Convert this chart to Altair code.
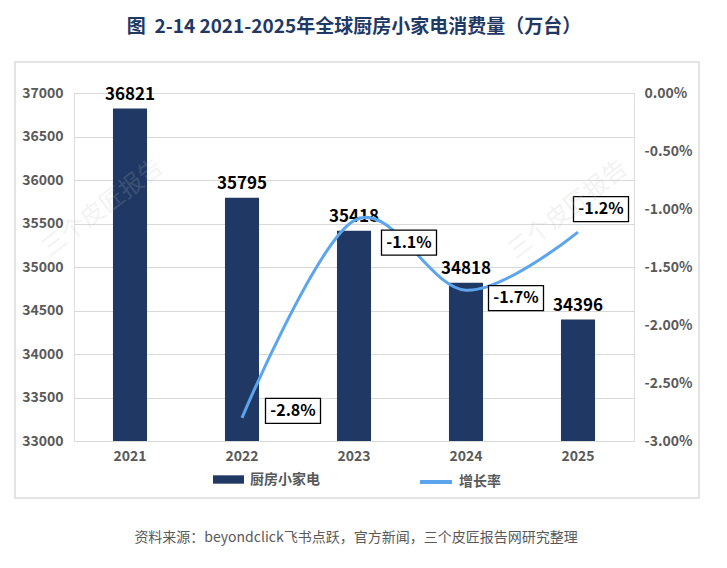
import altair as alt
import pandas as pd

# ---------------- data ----------------
years = ["2021", "2022", "2023", "2024", "2025"]
consumption = [36821, 35795, 35418, 34818, 34396]
growth = [None, -2.8, -1.1, -1.7, -1.2]
left_ticks = [33000, 33500, 34000, 34500, 35000, 35500, 36000, 36500, 37000]
right_ticks = [-3.0, -2.5, -2.0, -1.5, -1.0, -0.5, 0.0]
title_text = "图\u00a0\u00a02-14 2021-2025年全球厨房小家电消费量（万台）"
source_text = "资料来源：beyondclick飞书点跃，官方新闻，三个皮匠报告网研究整理"
watermark_text = "三个皮匠报告"
bar_series = "厨房小家电"
line_series = "增长率"

# ---------------- styles ----------------
CJK = "Noto Sans CJK SC"
BAR = "#1f3864"
LINE = "#5aa5ee"
GRID = "#d9d9d9"
LABEL = "#595959"
label_offsets = {"2022": (51, -7), "2023": (55, 22), "2024": (50, 8), "2025": (23, -23)}
BOX = "M-1,-0.455H1V0.455H-1Z"

df = pd.DataFrame({"year": years, "consumption": consumption, "growth": growth})

x_enc = alt.X(
    "year:N",
    sort=years,
    scale=alt.Scale(paddingInner=0.696, paddingOuter=0.348),
    axis=alt.Axis(labelAngle=0, labelFontSize=14, labelFontWeight="bold", labelColor=LABEL,
                  labelFont=CJK, labelPadding=8, domain=False, ticks=False, title=None, grid=False),
)
y_left = alt.Y(
    "consumption:Q",
    scale=alt.Scale(domain=[33000, 37000], zero=False, nice=False),
    axis=alt.Axis(values=left_ticks, format="d", labelFontSize=14, labelFontWeight="bold",
                  labelColor=LABEL, labelFont=CJK, labelPadding=11, domain=False, ticks=False,
                  grid=True, gridColor=GRID, gridWidth=1, title=None),
)
y_right = alt.Y(
    "growth:Q",
    scale=alt.Scale(domain=[-3, 0], nice=False, zero=False),
    axis=alt.Axis(orient="right", values=right_ticks,
                  labelExpr="(datum.value < 0 ? '-' : '') + format(abs(datum.value), '.2f') + '%'",
                  labelFontSize=14, labelFontWeight="bold", labelColor=LABEL, labelFont=CJK,
                  labelPadding=10, domain=False, ticks=False, grid=False, title=None),
)

base = alt.Chart(df)

bars = base.transform_calculate(s1=f"'{bar_series}'").mark_bar(color=BAR).encode(
    x=x_enc,
    y=y_left,
    y2=alt.datum(33000),
    color=alt.Color(
        "s1:N",
        scale=alt.Scale(domain=[bar_series], range=[BAR]),
        legend=alt.Legend(orient="none", legendX=139, legendY=371, title=None,
                          symbolType="M-1,-0.27H1V0.27H-1Z", symbolSize=961,
                          symbolStrokeWidth=0, labelFontSize=14, labelFontWeight="bold",
                          labelColor=LABEL, labelFont=CJK, labelOffset=6),
    ),
)
bar_text = base.mark_text(baseline="bottom", dy=-5, fontSize=17, fontWeight="bold",
                          color="black", font=CJK).encode(
    x=x_enc, y=y_left, text=alt.Text("consumption:Q", format="d")
)
bar_group = alt.layer(bars, bar_text)

gbase = base.transform_filter("isValid(datum.growth)")
line = gbase.transform_calculate(s2=f"'{line_series}'").mark_line(
    strokeWidth=3, interpolate="cardinal"
).encode(
    x=x_enc,
    y=y_right,
    color=alt.Color(
        "s2:N",
        scale=alt.Scale(domain=[line_series], range=[LINE]),
        legend=alt.Legend(orient="none", legendX=344, legendY=371, title=None,
                          symbolType="stroke", symbolSize=1024, symbolStrokeWidth=4,
                          labelFontSize=14, labelFontWeight="bold", labelColor=LABEL,
                          labelFont=CJK, labelOffset=5),
    ),
)
line_layers = [line]
for yr, (dx, dy) in label_offsets.items():
    sub = gbase.transform_filter(alt.datum.year == yr).transform_calculate(
        lab="(datum.growth < 0 ? '-' : '') + format(abs(datum.growth), '.1f') + '%'"
    )
    box = sub.mark_point(shape=BOX, size=55 * 55, filled=True, fill="white", stroke="black",
                         strokeWidth=1.3, opacity=1, xOffset=dx, yOffset=dy).encode(x=x_enc, y=y_right)
    txt = sub.mark_text(fontSize=16, fontWeight="bold", color="black", font=CJK, dx=dx, dy=dy,
                        baseline="middle", align="center").encode(x=x_enc, y=y_right, text="lab:N")
    line_layers += [box, txt]
line_group = alt.layer(*line_layers)

one = pd.DataFrame({"t": [source_text], "w": [watermark_text]})
frame = alt.Chart(one).mark_rect(fill="white", fillOpacity=0, stroke="#dcdcdc", strokeWidth=1.5).encode(
    x=alt.value(-59), x2=alt.value(625), y=alt.value(-31), y2=alt.value(405)
)
wm1 = alt.Chart(one).mark_text(angle=323, fontSize=24, color="#c0c0c0", opacity=0.18, font=CJK).encode(
    x=alt.value(29), y=alt.value(115), text="w:N"
)
wm2 = alt.Chart(one).mark_text(angle=322, fontSize=24, color="#c0c0c0", opacity=0.2, font=CJK).encode(
    x=alt.value(494), y=alt.value(117), text="w:N"
)
source = alt.Chart(one).mark_text(fontSize=14, color="#595959", font=CJK).encode(
    x=alt.value(282), y=alt.value(445), text="t:N"
)

chart = alt.layer(frame, bar_group, line_group, wm1, wm2, source).resolve_scale(
    y="independent", color="independent"
).properties(
    width=560,
    height=348,
    title=alt.TitleParams(text=title_text, anchor="middle", fontSize=19, fontWeight="bold",
                          color=BAR, font=CJK, offset=24),
    autosize=alt.AutoSizeParams(type="none"),
    padding={"left": 66, "top": 85, "right": 85, "bottom": 119},
).configure_view(stroke=None).configure(background="white")

chart.save("out.html", embed_options={"renderer": "svg", "actions": False})
